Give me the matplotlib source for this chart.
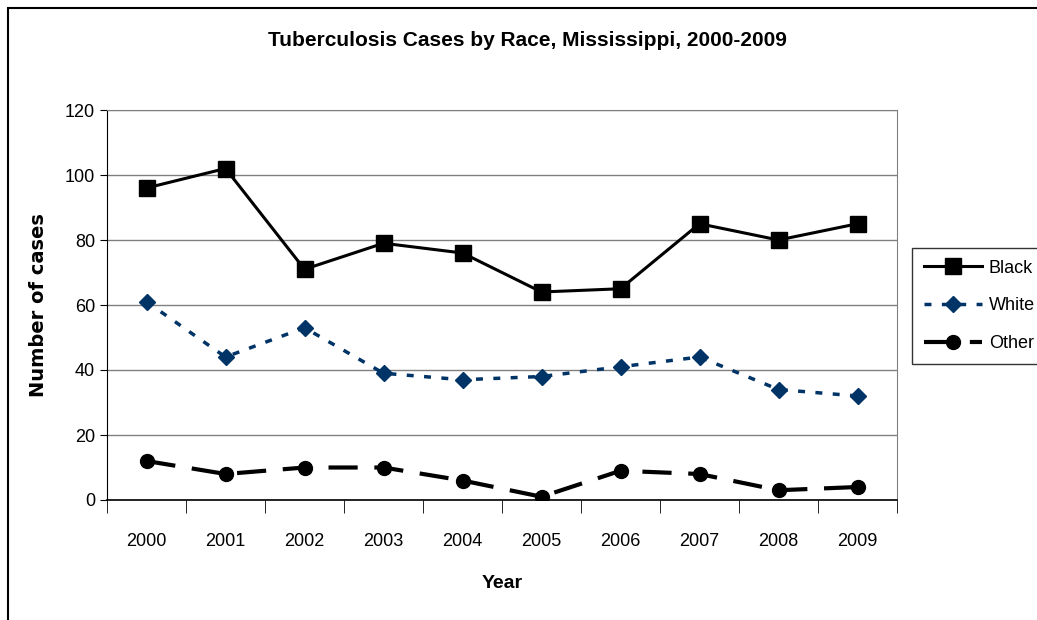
import matplotlib.pyplot as plt
from matplotlib.patches import Rectangle
from matplotlib.ticker import FixedLocator

years = [2000, 2001, 2002, 2003, 2004, 2005, 2006, 2007, 2008, 2009]
black = [96, 102, 71, 79, 76, 64, 65, 85, 80, 85]
white = [61, 44, 53, 39, 37, 38, 41, 44, 34, 32]
other = [12, 8, 10, 10, 6, 1, 9, 8, 3, 4]

plt.rcParams['font.family'] = ['Liberation Sans', 'DejaVu Sans']

fig = plt.figure(figsize=(10.37, 6.2), dpi=100)
ax = fig.add_axes([107 / 1037, 120 / 620, 790 / 1037, 390 / 620])

x = list(range(len(years)))
ax.plot(x, black, color='black', lw=2.2, marker='s', ms=11, label='Black')
ax.plot(x, white, color='#003366', lw=2.5, ls=(0, (2, 3)), marker='D', ms=8,
        label='White')
ax.plot(x, other, color='black', lw=3, ls=(0, (7, 4)), marker='o', ms=10,
        label='Other')

ax.set_xlim(-0.5, len(years) - 0.5)
ax.set_ylim(0, 120)
ax.set_yticks(range(0, 121, 20))
ax.yaxis.grid(True, color='#808080', lw=1)
ax.set_axisbelow(True)

ax.set_xticks(x)
ax.set_xticklabels([str(y) for y in years], fontsize=13)
ax.tick_params(axis='x', which='major', length=0, pad=24)
ax.xaxis.set_minor_locator(FixedLocator([i - 0.5 for i in range(len(years) + 1)]))
ax.tick_params(axis='x', which='minor', length=9, color='black')
ax.tick_params(axis='y', labelsize=13, length=5)

for s in ['top', 'right']:
    ax.spines[s].set_color('#808080')
ax.spines['left'].set_color('black')
ax.spines['bottom'].set_color('black')
ax.spines['bottom'].set_linewidth(1.2)

ax.set_xlabel('Year', fontsize=14, fontweight='bold', labelpad=18)
ax.set_ylabel('Number of cases', fontsize=14, fontweight='bold', labelpad=12,
              family='DejaVu Sans')
fig.text(527 / 1037, 1 - 40 / 620, 'Tuberculosis Cases by Race, Mississippi, 2000-2009',
         ha='center', va='center', fontsize=15, fontweight='bold')

leg = ax.legend(loc='upper left', bbox_to_anchor=(912 / 1037, 1 - 248 / 620),
                bbox_transform=fig.transFigure, fontsize=13, frameon=True,
                fancybox=False, edgecolor='black', handlelength=3.2,
                handletextpad=0.4, borderaxespad=0, borderpad=0.65,
                labelspacing=1.15)
leg.get_frame().set_linewidth(1)

fig.patches.append(Rectangle((8 / 1037, -0.1), 1.2, 1 - 8 / 620 + 0.1,
                             transform=fig.transFigure, fill=False,
                             edgecolor='black', lw=1.5))

fig.savefig('out.png', dpi=100)
